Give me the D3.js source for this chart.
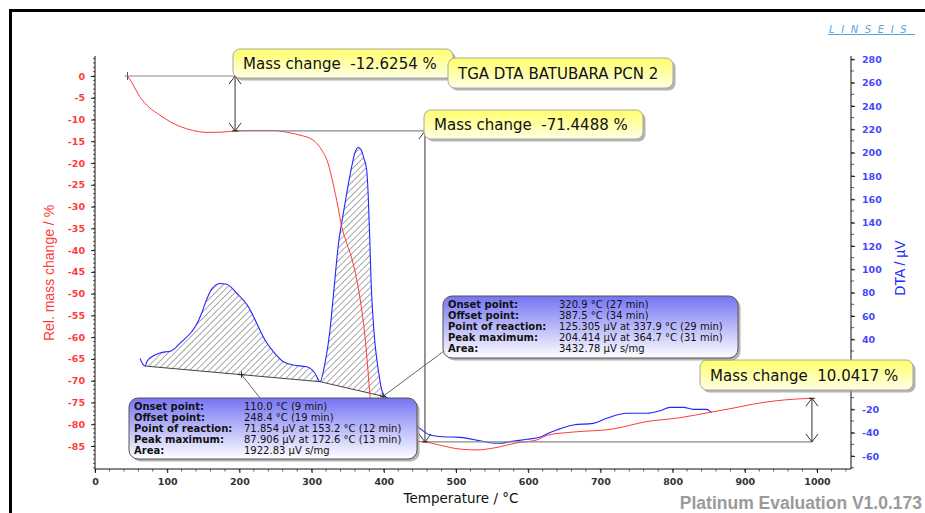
<!DOCTYPE html>
<html>
<head>
<meta charset="utf-8">
<script src="https://cdn.jsdelivr.net/npm/d3@7"></script>
<style>
  body { margin: 0; background: #fff; }
  svg { display: block; }
</style>
</head>
<body>
<svg id="chart" width="925" height="513"></svg>
<script>
// ---- data ---------------------------------------------------------------
// TGA: [temperature °C, relative mass change %]
const tgaPoints = [
  [45, 0], [50, -1.2], [62, -4.75], [75, -7.2], [90, -9.0], [105, -10.6],
  [118, -11.6], [135, -12.5], [155, -12.95], [175, -12.9], [194, -12.63],
  [220, -12.5], [246, -12.5], [265, -12.9], [284, -13.6], [302, -14.7],
  [314, -17], [322.7, -20], [329.6, -24.6], [336.6, -30.1], [341.7, -34.6],
  [348.6, -38.4], [357.3, -42.9], [364.3, -48.4], [369.4, -53.7], [374, -59.9],
  [378, -67.5], [381, -73.7], [386, -78.5], [392, -81.5], [400, -83],
  [420, -83.6], [440, -83.9], [457, -84.07], [480, -84.9], [505, -85.7],
  [529, -85.9], [551, -85.5], [584, -84.3], [612, -83.6], [627, -82.5],
  [662, -81.8], [717, -81.1], [764, -79.4], [810, -78.5], [851, -77.3],
  [884, -76.3], [911, -75.4], [944, -74.6], [993, -74.03]
];

// DTA: [temperature °C, signal µV]
const dtaPoints = [
  [62.3, 23.7], [66, 19], [69.3, 17.1], [72, 21], [76.2, 24.0], [90, 28.3],
  [106.2, 30.3], [120.1, 38.0], [133.9, 46.5], [140, 52], [147.8, 62.5],
  [153.2, 71.854], [161.6, 83], [167, 86.5], [172.6, 87.906], [182.4, 87.2],
  [196.3, 79.5], [212.3, 68.0], [224, 53.7], [235.5, 39.4], [247, 29.4],
  [260.8, 20.8], [274.7, 18.0], [293.2, 16.5], [304.7, 10.9], [311.6, 3.7],
  [318.6, 19.7], [325.5, 48.0], [330, 76.5], [337.9, 125.305], [341.7, 140],
  [348.6, 165], [355.5, 188], [360, 200], [364.7, 204.414], [369, 202],
  [372, 196], [376.3, 185.1], [378.5, 162.3], [380.9, 119.4], [382.3, 90.9],
  [384.6, 62.6], [387.8, 36.6], [392.4, 13.7], [397.1, -3.4], [401.7, -9.2],
  [406, -10.5], [412, -11], [420, -16], [435, -28], [450, -36.3], [464, -42],
  [482, -43.5], [505.5, -44], [533, -46.9], [547, -48.6], [561, -49.1],
  [574.8, -47.7], [598, -45.7], [616, -44], [627.8, -40.5], [639.5, -37.7],
  [662.5, -33.4], [690, -32], [708.7, -27.7], [736.4, -23.4], [764, -23.4],
  [782.5, -21.2], [796.4, -18.3], [814.8, -18.3], [828.7, -20], [847, -20],
  [854, -22.9]
];

// DTA peak integration limits (°C)
const peakStart = [69.3, 311.6];
const peakEnd = [311.6, 401.7];

// DTA peak evaluation results
const onsetT = [110.0, 320.9], onsetMin = [9, 27];
const offsetT = [248.4, 387.5], offsetMin = [19, 34];
const reactionUV = [71.854, 125.305], reactionT = [153.2, 337.9], reactionMin = [12, 29];
const peakUV = [87.906, 204.414], peakT = [172.6, 364.7], peakMin = [13, 31];
const areaVal = [1922.83, 3432.78];

// TGA mass-change steps: evaluation temperatures and step sizes (%)
const stepTemps = [45, 194, 457, 993];
const massChanges = [-12.6254, -71.4488, 10.0417];

const sampleName = "TGA DTA BATUBARA PCN 2";

// axis ticks (0 and 20 on the DTA axis sit under the last mass-change note)
const xTicks = [0, 100, 200, 300, 400, 500, 600, 700, 800, 900, 1000];
const massTicks = [0, -5, -10, -15, -20, -25, -30, -35, -40, -45, -50, -55, -60, -65, -70, -75, -80, -85];
const dtaTicks = [-60, -40, -20, 40, 60, 80, 100, 120, 140, 160, 180, 200, 220, 240, 260, 280];

// ---- setup --------------------------------------------------------------
const svg = d3.select("#chart");
const defs = svg.append("defs");

const x = d3.scaleLinear().domain([0, 1000]).range([95, 817]);
const yM = d3.scaleLinear().domain([0, -85]).range([76, 446]);
const yD = d3.scaleLinear().domain([0, 280]).range([386, 59.3]);

const plotTop = 56, plotBottom = 469, plotLeft = 95, plotRight = 851;

const RED = "#ff3a3a", BLUE = "#2424ff";
const tickFont = "DejaVu Sans, Verdana, sans-serif";

// gradients and hatch pattern
const yg = defs.append("linearGradient").attr("id", "yellowFill").attr("x1", 0).attr("y1", 0).attr("x2", 0).attr("y2", 1);
yg.append("stop").attr("offset", "0%").attr("stop-color", "#ffff6a");
yg.append("stop").attr("offset", "100%").attr("stop-color", "#ffffe6");
const bg = defs.append("linearGradient").attr("id", "blueFill").attr("x1", 0).attr("y1", 0).attr("x2", 0).attr("y2", 1);
bg.append("stop").attr("offset", "0%").attr("stop-color", "#7474f4");
bg.append("stop").attr("offset", "100%").attr("stop-color", "#ffffff");
const hatch = defs.append("pattern").attr("id", "hatch").attr("patternUnits", "userSpaceOnUse")
  .attr("width", 4.6).attr("height", 4.6).attr("patternTransform", "rotate(45)");
hatch.append("line").attr("x1", 0).attr("y1", 0).attr("x2", 0).attr("y2", 4.6)
  .attr("stroke", "#333").attr("stroke-width", 0.85);

// outer frame
svg.append("path").attr("d", "M10.5,520 V10.5 H930")
  .attr("fill", "none").attr("stroke", "#000").attr("stroke-width", 3);

// ---- axes ---------------------------------------------------------------
function styleAxis(g, color, size) {
  g.select(".domain").remove();
  g.selectAll(".tick line").attr("stroke", "#222");
  g.selectAll(".tick text").attr("fill", color).attr("font-family", tickFont)
    .attr("font-weight", "bold").attr("font-size", size);
}

// minor ticks
const minorM = d3.range(-90, 5, 1);
svg.append("g").selectAll("line").data(minorM).join("line")
  .attr("x1", plotLeft - 2).attr("x2", plotLeft).attr("y1", d => yM(d)).attr("y2", d => yM(d))
  .attr("stroke", "#333").attr("stroke-width", 0.8);
const minorD = d3.range(-70, 290, 10);
svg.append("g").selectAll("line").data(minorD).join("line")
  .attr("x1", plotRight).attr("x2", plotRight + 3).attr("y1", d => yD(d)).attr("y2", d => yD(d))
  .attr("stroke", "#333").attr("stroke-width", 0.8);
const minorX = d3.range(0, 1047, 20);
svg.append("g").selectAll("line").data(minorX).join("line")
  .attr("x1", d => x(d)).attr("x2", d => x(d)).attr("y1", plotBottom).attr("y2", plotBottom + 2.5)
  .attr("stroke", "#333").attr("stroke-width", 0.8);

svg.append("g").attr("transform", `translate(${plotLeft},0)`)
  .call(d3.axisLeft(yM).tickValues(massTicks).tickSize(4).tickPadding(6).tickFormat(d => String(d)))
  .call(g => styleAxis(g, RED, 9.5));
svg.append("g").attr("transform", `translate(${plotRight},0)`)
  .call(d3.axisRight(yD).tickValues(dtaTicks).tickSize(4).tickPadding(7).tickFormat(d => String(d)))
  .call(g => styleAxis(g, "#4646ff", 9.5));
svg.append("g").attr("transform", `translate(0,${plotBottom})`)
  .call(d3.axisBottom(x).tickValues(xTicks).tickSize(4).tickPadding(5.5).tickFormat(d => String(d)))
  .call(g => styleAxis(g, "#333", 9.5));

// axis lines
svg.append("line").attr("x1", plotLeft).attr("x2", plotLeft).attr("y1", plotTop).attr("y2", plotBottom).attr("stroke", "#111");
svg.append("line").attr("x1", plotRight).attr("x2", plotRight).attr("y1", plotTop).attr("y2", plotBottom).attr("stroke", "#111");
svg.append("line").attr("x1", plotLeft).attr("x2", plotRight).attr("y1", plotBottom).attr("y2", plotBottom).attr("stroke", "#111");

// axis titles
svg.append("text").attr("transform", "translate(54,273) rotate(-90)").attr("text-anchor", "middle")
  .attr("font-family", "Liberation Sans, Arial, sans-serif").attr("font-size", 14).attr("fill", RED)
  .text("Rel. mass change / %");
svg.append("text").attr("transform", "translate(905,268) rotate(-90)").attr("text-anchor", "middle")
  .attr("font-family", "Liberation Sans, Arial, sans-serif").attr("font-size", 14).attr("fill", BLUE)
  .text("DTA / µV");
svg.append("text").attr("x", 461).attr("y", 503).attr("text-anchor", "middle")
  .attr("font-family", tickFont).attr("font-size", 13.5).attr("fill", "#111")
  .text("Temperature / °C");

// ---- DTA peak areas ----------------------------------------------------
const dtaAt = t => {
  const i = d3.bisector(d => d[0]).left(dtaPoints, t);
  if (i <= 0) return dtaPoints[0][1];
  if (i >= dtaPoints.length) return dtaPoints[dtaPoints.length - 1][1];
  const a = dtaPoints[i - 1], b = dtaPoints[i];
  return a[1] + (b[1] - a[1]) * (t - a[0]) / (b[0] - a[0]);
};
const baselines = peakStart.map((t0, i) => d3.scaleLinear().domain([t0, peakEnd[i]]).range([dtaAt(t0), dtaAt(peakEnd[i])]));

peakStart.forEach((t0, i) => {
  const pts = dtaPoints.filter(d => d[0] >= t0 && d[0] <= peakEnd[i]);
  const area = d3.area().x(d => x(d[0])).y0(d => yD(baselines[i](d[0]))).y1(d => yD(d[1]));
  svg.append("path").attr("d", area(pts)).attr("fill", "url(#hatch)");
  svg.append("line")
    .attr("x1", x(t0)).attr("y1", yD(baselines[i](t0)))
    .attr("x2", x(peakEnd[i])).attr("y2", yD(baselines[i](peakEnd[i])))
    .attr("stroke", "#444").attr("stroke-width", 1);
});

// ---- curves ------------------------------------------------------------
const lineGen = y => d3.line().x(d => x(d[0])).y(d => y(d[1])).curve(d3.curveMonotoneX);
svg.append("path").attr("d", lineGen(yD)(dtaPoints)).attr("fill", "none").attr("stroke", BLUE).attr("stroke-width", 1.1);
svg.append("path").attr("d", lineGen(yM)(tgaPoints)).attr("fill", "none").attr("stroke", RED).attr("stroke-width", 1);

// ---- mass-change steps -----------------------------------------------
const levels = [0];
massChanges.forEach(c => levels.push(levels[levels.length - 1] + c));

const mg = svg.append("g").attr("fill", "none");
function arrowHead(px, py, dir) {
  mg.append("path").attr("d", `M${px - 6},${py - dir * 8} L${px},${py} L${px + 6},${py - dir * 8}`)
    .attr("stroke", "#333").attr("stroke-width", 1);
}
// first horizontal reference at the start
mg.append("line").attr("x1", x(stepTemps[0]) - 3).attr("x2", x(stepTemps[1]))
  .attr("y1", yM(levels[0])).attr("y2", yM(levels[0])).attr("stroke", "#8a8a8a").attr("stroke-width", 1.2);
mg.append("line").attr("x1", x(stepTemps[0])).attr("x2", x(stepTemps[0]))
  .attr("y1", yM(levels[0]) - 4).attr("y2", yM(levels[0]) + 4).attr("stroke", "#555");
massChanges.forEach((c, i) => {
  const tx = x(stepTemps[i + 1]);
  const yA = yM(levels[i]), yB = yM(levels[i + 1]);
  // horizontal level line to the next step
  if (i + 2 < stepTemps.length) {
    mg.append("line").attr("x1", tx).attr("x2", x(stepTemps[i + 2]))
      .attr("y1", yB).attr("y2", yB).attr("stroke", "#8a8a8a").attr("stroke-width", 1.2);
  }
  mg.append("line").attr("x1", tx).attr("x2", tx).attr("y1", yA).attr("y2", yB).attr("stroke", "#333");
  const dir = yB > yA ? 1 : -1;
  arrowHead(tx, yB, dir);
  arrowHead(tx, yA, -dir);
  // cross mark on the curve
  mg.append("line").attr("x1", tx - 3).attr("x2", tx + 3).attr("y1", yB).attr("y2", yB).attr("stroke", "#222");
});

// pointer lines from the peak baselines to their result boxes
const pointerT = [203, 399];
const boxAnchors = [[260, 398], [444, 351]];
pointerT.forEach((t, i) => {
  const px = x(t), py = yD(baselines[i](Math.min(t, peakEnd[i])));
  svg.append("line").attr("x1", px).attr("y1", py).attr("x2", boxAnchors[i][0]).attr("y2", boxAnchors[i][1])
    .attr("stroke", "#666").attr("stroke-width", 1);
  svg.append("path").attr("d", `M${px - 3},${py} H${px + 3} M${px},${py - 3} V${py + 3}`).attr("stroke", "#222");
});

// ---- annotation boxes ------------------------------------------------
function box(bx, by, w, h, fill, stroke, rx) {
  const g = svg.append("g");
  g.append("rect").attr("x", bx + 2.5).attr("y", by + 2.5).attr("width", w).attr("height", h).attr("rx", rx)
    .attr("fill", "#9a9a9a").attr("opacity", 0.75);
  g.append("rect").attr("x", bx).attr("y", by).attr("width", w).attr("height", h).attr("rx", rx)
    .attr("fill", fill).attr("stroke", stroke).attr("stroke-width", 1);
  return g;
}
function yellowNote(bx, by, w, h, txt) {
  const g = box(bx, by, w, h, "url(#yellowFill)", "#a8a8a0", 7);
  g.append("text").attr("x", bx + 10).attr("y", by + h / 2 + 5.5)
    .attr("font-family", tickFont).attr("font-size", 15).attr("fill", "#111")
    .style("white-space", "pre").text(txt);
}
const massLabels = massChanges.map(c => "Mass change  " + c.toFixed(4) + " %");
yellowNote(233, 49, 220, 29, massLabels[0]);
yellowNote(448, 58, 225, 30, sampleName);
yellowNote(424, 110, 219, 29, massLabels[1]);
yellowNote(700, 360, 213, 30, massLabels[2]);

// peak result boxes
const rowLabels = ["Onset point:", "Offset point:", "Point of reaction:", "Peak maximum:", "Area:"];
function peakRows(i) {
  return [
    `${onsetT[i].toFixed(1)} °C (${onsetMin[i]} min)`,
    `${offsetT[i].toFixed(1)} °C (${offsetMin[i]} min)`,
    `${reactionUV[i].toFixed(3)} µV at ${reactionT[i].toFixed(1)} °C (${reactionMin[i]} min)`,
    `${peakUV[i].toFixed(3)} µV at ${peakT[i].toFixed(1)} °C (${peakMin[i]} min)`,
    `${areaVal[i].toFixed(2)} µV s/mg`
  ];
}
function peakBox(bx, by, w, h, valueX, i) {
  const g = box(bx, by, w, h, "url(#blueFill)", "#555", 9);
  const vals = peakRows(i);
  rowLabels.forEach((lab, r) => {
    const ty = by + 12 + r * 10.9;
    g.append("text").attr("x", bx + 5).attr("y", ty).attr("font-family", tickFont)
      .attr("font-size", 10).attr("font-weight", "bold").attr("fill", "#111").text(lab);
    g.append("text").attr("x", bx + valueX).attr("y", ty).attr("font-family", tickFont)
      .attr("font-size", 10).attr("fill", "#111").text(vals[r]);
  });
}
peakBox(443, 296, 295, 62, 116, 1);
peakBox(129, 398, 288, 61, 115, 0);

// ---- branding ----------------------------------------------------------
svg.append("text").attr("x", 922).attr("y", 509).attr("text-anchor", "end")
  .attr("font-family", "Liberation Sans, Arial, sans-serif").attr("font-weight", "bold")
  .attr("font-size", 17.5).attr("fill", "#9a9a9a").text("Platinum Evaluation V1.0.173");
svg.append("text").attr("x", 829).attr("y", 32.5).attr("font-family", tickFont)
  .attr("font-style", "italic").attr("font-size", 10).attr("letter-spacing", 6.6)
  .attr("fill", "#5aa4dc").text("LINSEIS");
svg.append("line").attr("x1", 828).attr("x2", 915).attr("y1", 34.5).attr("y2", 34.5)
  .attr("stroke", "#5aa4dc").attr("stroke-width", 1);
</script>
</body>
</html>
